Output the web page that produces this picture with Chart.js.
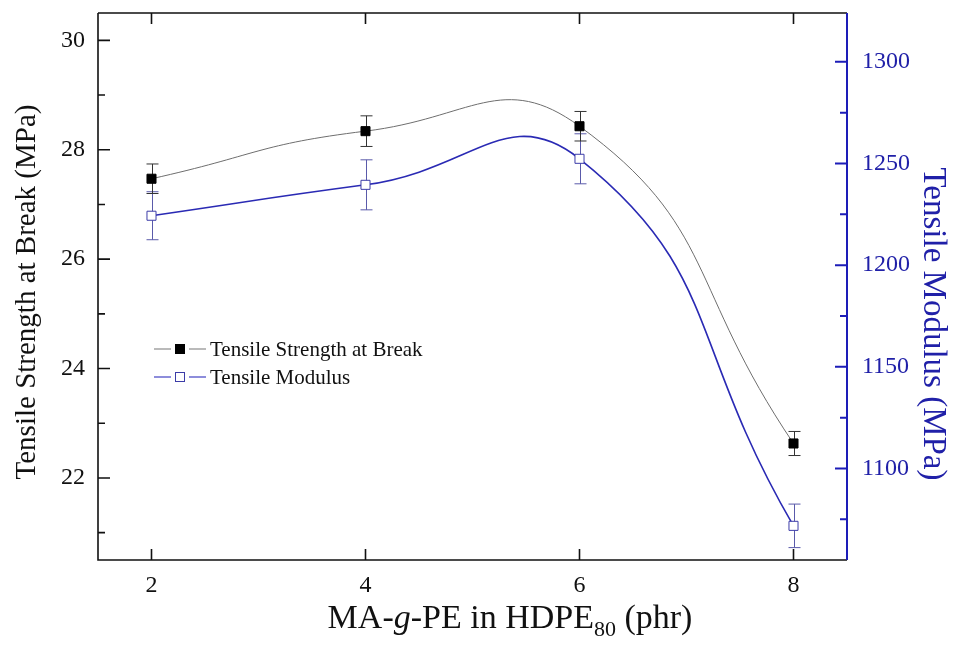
<!DOCTYPE html>
<html>
<head>
<meta charset="utf-8">
<script src="https://cdn.jsdelivr.net/npm/chart.js@4.4.0/dist/chart.umd.min.js"></script>
<style>
  html, body { margin: 0; padding: 0; background: #ffffff; }
  #wrap { width: 954px; height: 652px; position: relative; }
</style>
</head>
<body>
<div id="wrap"><canvas id="chart"></canvas></div>
<script>
const loadings = [2, 4, 6, 8];
const strengthValues = [27.47, 28.34, 28.43, 22.63];
const strengthErrors = [0.27, 0.28, 0.27, 0.22];
const modulusValues = [1224.3, 1239.5, 1252.3, 1071.8];
const modulusErrors = [11.8, 12.3, 12.3, 10.7];

const xTicks = [2, 4, 6, 8];
const strengthTicks = [22, 24, 26, 28, 30];
const strengthMinorTicks = [21, 23, 25, 27, 29];
const modulusTicks = [1100, 1150, 1200, 1250, 1300];
const modulusMinorTicks = [1075, 1125, 1175, 1225, 1275];

const SERIF = "'Liberation Serif', 'Times New Roman', serif";
const BLUE = "#1d1db8";
const BLUE_TEXT = "#2020a8";

function fixTicks(values) {
  return scale => {
    scale.ticks = values.map(value => ({ value }));
  };
}

// keep the plot box exactly where the reference has it
function fixBox(width, height) {
  return scale => {
    if (width !== null) scale.width = width;
    if (height !== null) scale.height = height;
    scale.paddingTop = 0;
    scale.paddingBottom = 0;
    scale.paddingLeft = 0;
    scale.paddingRight = 0;
  };
}

function drawErrorBars(ctx, xScale, yScale, values, errors, color) {
  ctx.save();
  ctx.strokeStyle = color;
  ctx.lineWidth = 1;
  values.forEach((value, i) => {
    const x = Math.round(xScale.getPixelForValue(loadings[i])) + 0.5;
    const top = yScale.getPixelForValue(value + errors[i]);
    const bottom = yScale.getPixelForValue(value - errors[i]);
    ctx.beginPath();
    ctx.moveTo(x, top);
    ctx.lineTo(x, bottom);
    ctx.moveTo(x - 6, top);
    ctx.lineTo(x + 6, top);
    ctx.moveTo(x - 6, bottom);
    ctx.lineTo(x + 6, bottom);
    ctx.stroke();
  });
  ctx.restore();
}

const errorBars = {
  id: "errorBars",
  beforeDatasetsDraw(chart) {
    const { ctx, scales } = chart;
    drawErrorBars(ctx, scales.x, scales.y1, modulusValues, modulusErrors, "#5a5aaa");
    drawErrorBars(ctx, scales.x, scales.y, strengthValues, strengthErrors, "#333333");
  }
};

const axisFrame = {
  id: "axisFrame",
  afterDraw(chart) {
    const { ctx, chartArea: area, scales } = chart;
    ctx.save();
    ctx.lineWidth = 1.6;
    ctx.strokeStyle = "#111111";
    ctx.beginPath();
    ctx.moveTo(area.left, area.top);
    ctx.lineTo(area.right, area.top);
    ctx.moveTo(area.left, area.top);
    ctx.lineTo(area.left, area.bottom);
    ctx.lineTo(area.right, area.bottom);
    xTicks.forEach(value => {
      const x = scales.x.getPixelForValue(value);
      ctx.moveTo(x, area.bottom);
      ctx.lineTo(x, area.bottom - 11);
      ctx.moveTo(x, area.top);
      ctx.lineTo(x, area.top + 11);
    });
    strengthTicks.forEach(value => {
      const y = scales.y.getPixelForValue(value);
      ctx.moveTo(area.left, y);
      ctx.lineTo(area.left + 12, y);
    });
    strengthMinorTicks.forEach(value => {
      const y = scales.y.getPixelForValue(value);
      ctx.moveTo(area.left, y);
      ctx.lineTo(area.left + 7, y);
    });
    ctx.stroke();

    ctx.strokeStyle = BLUE;
    ctx.lineWidth = 2;
    ctx.beginPath();
    ctx.moveTo(area.right, area.top);
    ctx.lineTo(area.right, area.bottom);
    modulusTicks.forEach(value => {
      const y = scales.y1.getPixelForValue(value);
      ctx.moveTo(area.right, y);
      ctx.lineTo(area.right - 12, y);
    });
    modulusMinorTicks.forEach(value => {
      const y = scales.y1.getPixelForValue(value);
      ctx.moveTo(area.right, y);
      ctx.lineTo(area.right - 7, y);
    });
    ctx.stroke();
    ctx.restore();
  }
};

const titlesAndLegend = {
  id: "titlesAndLegend",
  afterDraw(chart) {
    const { ctx } = chart;
    ctx.save();

    // left title
    ctx.fillStyle = "#111111";
    ctx.font = `29px ${SERIF}`;
    ctx.textAlign = "center";
    ctx.textBaseline = "middle";
    ctx.save();
    ctx.translate(27, 292);
    ctx.rotate(-Math.PI / 2);
    ctx.fillText("Tensile Strength at Break (MPa)", 0, 0);
    ctx.restore();

    // right title
    ctx.fillStyle = BLUE_TEXT;
    ctx.font = `33px ${SERIF}`;
    ctx.save();
    ctx.translate(933, 324);
    ctx.rotate(Math.PI / 2);
    ctx.fillText("Tensile Modulus (MPa)", 0, 0);
    ctx.restore();

    // x title with italic g and subscript 80
    const runs = [
      { text: "MA-", font: `34px ${SERIF}`, dy: 0 },
      { text: "g", font: `italic 34px ${SERIF}`, dy: 0 },
      { text: "-PE in HDPE", font: `34px ${SERIF}`, dy: 0 },
      { text: "80", font: `22px ${SERIF}`, dy: 8 },
      { text: " (phr)", font: `34px ${SERIF}`, dy: 0 }
    ];
    ctx.fillStyle = "#111111";
    ctx.textAlign = "left";
    ctx.textBaseline = "alphabetic";
    let total = 0;
    runs.forEach(run => {
      ctx.font = run.font;
      total += ctx.measureText(run.text).width;
    });
    let x = 510 - total / 2;
    runs.forEach(run => {
      ctx.font = run.font;
      ctx.fillText(run.text, x, 628 + run.dy);
      x += ctx.measureText(run.text).width;
    });

    // legend
    const legendRows = [
      { label: "Tensile Strength at Break", line: "#777777", fill: "#000000", border: "#000000", y: 349 },
      { label: "Tensile Modulus", line: BLUE, fill: "#ffffff", border: "#3c3ca8", y: 377 }
    ];
    legendRows.forEach(row => {
      ctx.strokeStyle = row.line;
      ctx.lineWidth = 1.2;
      ctx.beginPath();
      ctx.moveTo(154, row.y);
      ctx.lineTo(171, row.y);
      ctx.moveTo(189, row.y);
      ctx.lineTo(206, row.y);
      ctx.stroke();
      ctx.fillStyle = row.fill;
      ctx.fillRect(175.5, row.y - 4.5, 9, 9);
      ctx.strokeStyle = row.border;
      ctx.lineWidth = 1;
      ctx.strokeRect(175.5, row.y - 4.5, 9, 9);
      ctx.fillStyle = "#111111";
      ctx.font = `21px ${SERIF}`;
      ctx.textBaseline = "middle";
      ctx.fillText(row.label, 210, row.y + 1);
    });

    ctx.restore();
  }
};

new Chart(document.getElementById("chart"), {
  type: "line",
  data: {
    datasets: [
      {
        label: "Tensile Strength at Break",
        data: loadings.map((x, i) => ({ x, y: strengthValues[i] })),
        yAxisID: "y",
        borderColor: "#6e6e6e",
        borderWidth: 1,
        tension: 0.5,
        pointStyle: "rect",
        pointRadius: 6.4,
        pointBackgroundColor: "#000000",
        pointBorderColor: "#000000",
        pointBorderWidth: 1
      },
      {
        label: "Tensile Modulus",
        data: loadings.map((x, i) => ({ x, y: modulusValues[i] })),
        yAxisID: "y1",
        borderColor: "#2a2ab4",
        borderWidth: 1.6,
        tension: 0.5,
        pointStyle: "rect",
        pointRadius: 6.4,
        pointBackgroundColor: "#ffffff",
        pointBorderColor: "#3c3ca8",
        pointBorderWidth: 1
      }
    ]
  },
  options: {
    responsive: true,
    maintainAspectRatio: false,
    animation: false,
    devicePixelRatio: 1,
    layout: { padding: { top: 13, left: 0, right: 0, bottom: 0 } },
    plugins: {
      legend: { display: false },
      tooltip: { enabled: false }
    },
    scales: {
      x: {
        type: "linear",
        min: 1.5,
        max: 8.5,
        afterBuildTicks: fixTicks(xTicks),
        afterFit: fixBox(null, 92),
        grid: { display: false, drawTicks: false },
        border: { display: false },
        ticks: {
          padding: 11,
          color: "#111111",
          font: { family: SERIF, size: 24 },
          callback: value => String(value)
        }
      },
      y: {
        type: "linear",
        position: "left",
        min: 20.5,
        max: 30.5,
        afterBuildTicks: fixTicks(strengthTicks),
        afterFit: fixBox(98, null),
        grid: { display: false, drawTicks: false },
        border: { display: false },
        ticks: {
          padding: 13,
          color: "#111111",
          font: { family: SERIF, size: 24 },
          callback: value => String(value)
        }
      },
      y1: {
        type: "linear",
        position: "right",
        min: 1055,
        max: 1324,
        afterBuildTicks: fixTicks(modulusTicks),
        afterFit: fixBox(107, null),
        grid: { display: false, drawTicks: false },
        border: { display: false },
        ticks: {
          padding: 15,
          color: BLUE_TEXT,
          font: { family: SERIF, size: 24 },
          callback: value => String(value)
        }
      }
    }
  },
  plugins: [errorBars, axisFrame, titlesAndLegend]
});
</script>
</body>
</html>
